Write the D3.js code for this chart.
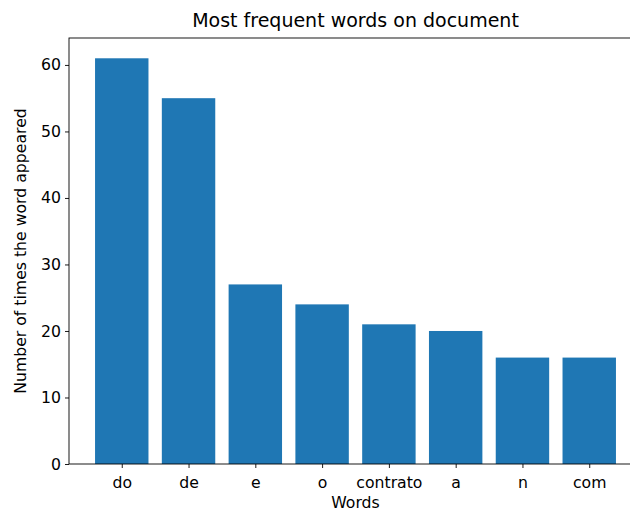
<!DOCTYPE html>
<html><head><meta charset="utf-8">
<script src="https://cdn.jsdelivr.net/npm/d3@7"></script>
<style>body{margin:0;background:#fff}svg{display:block}text{font-family:"DejaVu Sans",sans-serif;fill:#000}</style>
</head><body>
<script>
const words = ["do","de","e","o","contrato","a","n","com"];
const counts = [61,55,27,24,21,20,16,16];
const yTicks = [0,10,20,30,40,50,60];

const W=630,H=513;
const L=69, R=642, T=38, B=464;
const FS=15.7, TFS=19;
const svg=d3.select("body").append("svg").attr("width",W).attr("height",H);

const x=d3.scaleLinear().domain([-0.79,7.79]).range([L,R]);
const y=d3.scaleLinear().domain([0,64.05]).range([B,T]);

svg.selectAll("rect.bar").data(words).enter().append("rect")
  .attr("class","bar")
  .attr("x",(d,i)=>x(i-0.4)).attr("width",(d,i)=>x(i+0.4)-x(i-0.4))
  .attr("y",(d,i)=>y(counts[i])).attr("height",(d,i)=>y(0)-y(counts[i]))
  .attr("fill","#1f77b4");

const xAxis=d3.axisBottom(x).tickValues(d3.range(words.length)).tickFormat(i=>words[i]).tickSize(4).tickPadding(8.5);
const gx=svg.append("g").attr("transform",`translate(0,${B})`).call(xAxis);
const yAxis=d3.axisLeft(y).tickValues(yTicks).tickSize(4).tickPadding(4);
const gy=svg.append("g").attr("transform",`translate(${L},0)`).call(yAxis);
[gx,gy].forEach(g=>{
  g.select(".domain").remove();
  g.selectAll("text").style("font-size",FS+"px").style("font-family","DejaVu Sans").attr("fill","#222");
  g.selectAll("line").attr("stroke","#000").attr("stroke-width",0.9);
});

// spines
svg.append("rect").attr("x",L).attr("y",T).attr("width",R-L).attr("height",B-T)
  .attr("fill","none").attr("stroke","#000").attr("stroke-width",0.9);

svg.append("text").attr("x",(L+R)/2).attr("y",27).attr("text-anchor","middle")
  .style("font-size",TFS+"px").attr("fill","#222").text("Most frequent words on document");
svg.append("text").attr("x",(L+R)/2).attr("y",508).attr("text-anchor","middle")
  .style("font-size",FS+"px").attr("fill","#222").text("Words");
svg.append("text").attr("transform",`translate(26,${(T+B)/2}) rotate(-90)`).attr("text-anchor","middle")
  .style("font-size",FS+"px").attr("fill","#222").text("Number of times the word appeared");
</script>
</body></html>
